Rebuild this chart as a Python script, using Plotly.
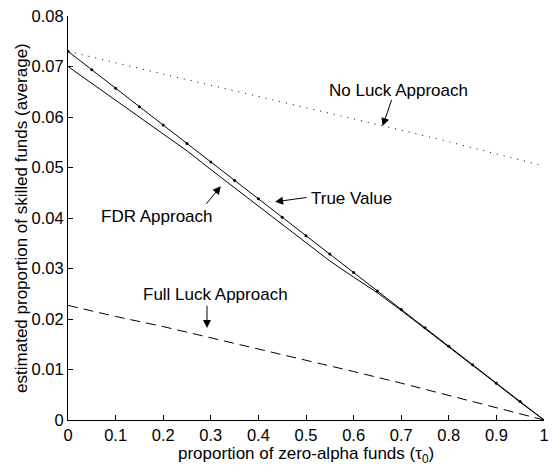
import plotly.graph_objects as go

pi0 = [0.0, 0.05, 0.1, 0.15, 0.2, 0.25, 0.3, 0.35, 0.4, 0.45, 0.5,
       0.55, 0.6, 0.65, 0.7, 0.75, 0.8, 0.85, 0.9, 0.95, 1.0]
true_value = [0.0730, 0.06935, 0.0657, 0.06205, 0.0584, 0.05475, 0.0511, 0.04745,
              0.0438, 0.04015, 0.0365, 0.03285, 0.0292, 0.02555, 0.0219, 0.01825,
              0.0146, 0.01095, 0.0073, 0.00365, 0.0]
fdr = [0.0700, 0.06665, 0.0633, 0.05995, 0.0566, 0.0533, 0.0496, 0.0460,
       0.0423, 0.0387, 0.0351, 0.0315, 0.0283, 0.0252, 0.0217, 0.0181,
       0.0145, 0.0108, 0.0072, 0.0035, 0.0]
pi0_coarse = [0.0, 0.1, 0.2, 0.3, 0.4, 0.5, 0.6, 0.7, 0.8, 0.9, 1.0]
no_luck = [0.0730, 0.0707, 0.0685, 0.0663, 0.0641, 0.0619, 0.0597, 0.0574, 0.0551, 0.0527, 0.0503]
full_luck = [0.0227, 0.0205, 0.0185, 0.0163, 0.0141, 0.0118, 0.0096, 0.0073, 0.0049, 0.0025, 0.0]

x_ticks = [0, 0.1, 0.2, 0.3, 0.4, 0.5, 0.6, 0.7, 0.8, 0.9, 1]
x_ticklabels = ["0", "0.1", "0.2", "0.3", "0.4", "0.5", "0.6", "0.7", "0.8", "0.9", "1"]
y_ticks = [0, 0.01, 0.02, 0.03, 0.04, 0.05, 0.06, 0.07, 0.08]
y_ticklabels = ["0", "0.01", "0.02", "0.03", "0.04", "0.05", "0.06", "0.07", "0.08"]

x_title = "proportion of zero-alpha funds (τ<sub>0</sub>)"
y_title = "estimated proportion of skilled funds (average)"

FONT = "Liberation Sans, Arial, Helvetica, sans-serif"

fig = go.Figure()
fig.add_trace(go.Scatter(x=pi0_coarse, y=no_luck, mode="lines",
                         line=dict(color="black", width=1, dash="1px,6px"),
                         name="No Luck Approach"))
fig.add_trace(go.Scatter(x=pi0_coarse, y=full_luck, mode="lines",
                         line=dict(color="black", width=1, dash="10px,6px"),
                         name="Full Luck Approach"))
fig.add_trace(go.Scatter(x=pi0, y=fdr, mode="lines",
                         line=dict(color="black", width=1),
                         name="FDR Approach"))
fig.add_trace(go.Scatter(x=pi0, y=true_value, mode="lines+markers",
                         line=dict(color="black", width=1),
                         marker=dict(color="black", size=3),
                         name="True Value"))

texts = [
    ("No Luck Approach", 0.6936, 0.0653, "center"),
    ("True Value", 0.507, 0.0439, "left"),
    ("FDR Approach", 0.187, 0.0402, "center"),
    ("Full Luck Approach", 0.309, 0.0249, "center"),
]
for t, x, y, anc in texts:
    fig.add_annotation(x=x, y=y, text=t, showarrow=False, xanchor=anc,
                       font=dict(family=FONT, size=17, color="black"))

arrows = [
    (0.661, 0.0582, 0.681, 0.0637),
    (0.435, 0.0432, 0.504, 0.0441),
    (0.321, 0.0463, 0.288, 0.0425),
    (0.292, 0.0182, 0.292, 0.0229),
]
for x, y, ax, ay in arrows:
    fig.add_annotation(x=x, y=y, ax=ax, ay=ay, axref="x", ayref="y", text="",
                       showarrow=True, arrowhead=2, arrowsize=1.6, arrowwidth=1,
                       arrowcolor="black", standoff=0, startstandoff=0)

# axis titles
fig.add_annotation(xref="paper", yref="paper", x=0.5, y=-0.087,
                   xanchor="center", yanchor="middle", text=x_title, showarrow=False,
                   font=dict(family=FONT, size=17, color="black"))
fig.add_annotation(xref="paper", yref="paper", x=-0.099, y=0.5,
                   xanchor="center", yanchor="middle", textangle=-90,
                   text=y_title, showarrow=False,
                   font=dict(family=FONT, size=17, color="black"))

fig.update_layout(
    width=553, height=470,
    margin=dict(l=68, r=9, t=16, b=50),
    paper_bgcolor="white", plot_bgcolor="white",
    showlegend=False,
    font=dict(family=FONT, size=17, color="black"),
)
fig.update_xaxes(
    range=[0, 1], tickvals=x_ticks, ticktext=x_ticklabels, automargin=False,
    ticks="inside", ticklen=5, tickcolor="black", tickwidth=1,
    showline=True, linecolor="black", linewidth=1, showgrid=False, zeroline=False,
    tickfont=dict(family=FONT, size=16.5),
)
fig.update_yaxes(
    range=[0, 0.08], tickvals=y_ticks, ticktext=y_ticklabels, automargin=False,
    ticks="inside", ticklen=5, tickcolor="black", tickwidth=1,
    showline=True, linecolor="black", linewidth=1, showgrid=False, zeroline=False,
    tickfont=dict(family=FONT, size=16.5),
)

fig.write_html("out.html", config={"displayModeBar": False},
               post_script="document.body.style.margin='0';")
